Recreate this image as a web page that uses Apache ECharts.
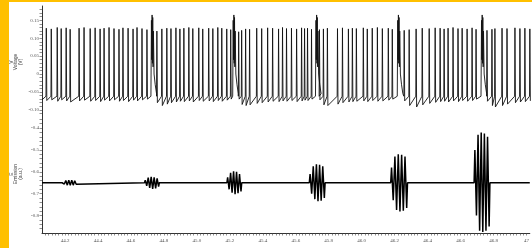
<!DOCTYPE html>
<html>
<head>
<meta charset="utf-8">
<script src="https://cdn.jsdelivr.net/npm/echarts@6/dist/echarts.min.js"></script>
<style>
  html, body { margin: 0; background: #fff; }
  #chart { width: 532px; height: 248px; }
</style>
</head>
<body>
<div id="chart"></div>
<script>
// time axis (s) and tick labels
const timeRange = [44.06, 47.02];
const xTickLabels = [44.2, 44.4, 44.6, 44.8, 45.0, 45.2, 45.4, 45.6, 45.8, 46.0, 46.2, 46.4, 46.6, 46.8, 47.0];
const voltageTickLabels = [0.15, 0.10, 0.05, 0, -0.05, -0.10];
const emissionTickLabels = [-0.4, -0.5, -0.6, -0.7, -0.8];

// top trace: each spike [time, peak, trough after]
const spikeOnset = -0.062;
const startLevel = -0.072;
const spikes = [
  [44.086,0.128,-0.074],[44.116,0.126,-0.072],[44.152,0.130,-0.076],[44.176,0.127,-0.072],
  [44.206,0.129,-0.075],[44.230,0.125,-0.078],[44.284,0.128,-0.075],[44.314,0.130,-0.073],
  [44.351,0.127,-0.076],[44.381,0.129,-0.074],[44.411,0.126,-0.077],[44.435,0.128,-0.073],
  [44.465,0.130,-0.075],[44.495,0.127,-0.072],[44.525,0.125,-0.076],[44.549,0.129,-0.074],
  [44.580,0.128,-0.077],[44.610,0.126,-0.073],[44.634,0.130,-0.075],[44.664,0.127,-0.072],
  [44.694,0.124,-0.070],[44.754,0.120,-0.080],[44.784,0.126,-0.088],[44.814,0.128,-0.084],
  [44.839,0.127,-0.080],[44.869,0.129,-0.078],[44.893,0.126,-0.076],[44.917,0.128,-0.077],
  [44.947,0.130,-0.075],[44.971,0.127,-0.078],[45.007,0.129,-0.074],[45.031,0.126,-0.076],
  [45.067,0.128,-0.075],[45.092,0.127,-0.077],[45.122,0.130,-0.074],[45.146,0.128,-0.076],
  [45.176,0.126,-0.073],[45.200,0.124,-0.070],[45.248,0.118,-0.070],[45.266,0.122,-0.085],
  [45.290,0.126,-0.088],[45.314,0.125,-0.086],[45.357,0.128,-0.082],[45.387,0.127,-0.080],
  [45.423,0.129,-0.078],[45.453,0.128,-0.076],[45.489,0.126,-0.077],[45.513,0.130,-0.075],
  [45.537,0.127,-0.076],[45.567,0.128,-0.074],[45.598,0.126,-0.077],[45.628,0.129,-0.075],
  [45.646,0.127,-0.073],[45.664,0.128,-0.074],[45.688,0.125,-0.070],[45.736,0.124,-0.072],
  [45.760,0.126,-0.086],[45.784,0.128,-0.088],[45.845,0.127,-0.084],[45.875,0.129,-0.080],
  [45.911,0.126,-0.078],[45.935,0.128,-0.077],[45.959,0.127,-0.076],[46.001,0.129,-0.075],
  [46.025,0.126,-0.077],[46.055,0.128,-0.074],[46.086,0.130,-0.076],[46.116,0.127,-0.075],
  [46.152,0.128,-0.073],[46.176,0.125,-0.070],[46.248,0.122,-0.075],[46.278,0.124,-0.088],
  [46.320,0.126,-0.092],[46.357,0.128,-0.086],[46.399,0.127,-0.082],[46.435,0.129,-0.079],
  [46.465,0.128,-0.077],[46.489,0.126,-0.076],[46.513,0.128,-0.078],[46.543,0.130,-0.075],
  [46.573,0.127,-0.077],[46.598,0.128,-0.074],[46.628,0.126,-0.076],[46.658,0.129,-0.074],
  [46.682,0.125,-0.070],[46.748,0.122,-0.076],[46.778,0.125,-0.088],[46.796,0.127,-0.092],
  [46.839,0.128,-0.088],[46.869,0.127,-0.084],[46.917,0.129,-0.080],[46.947,0.127,-0.078],
  [46.977,0.128,-0.077],[47.007,0.126,-0.075]
];

// top trace bursts: times, and the shape [time offset, voltage]
const burstTimes = [44.724, 45.218, 45.718, 46.212, 46.718];
const burstProfile = [
  [-0.006,-0.062],[-0.003,0.150],[-0.001,0.040],[0.001,0.165],[0.003,0.030],
  [0.005,0.158],[0.007,0.020],[0.009,0.120],[0.013,0.000],[0.020,-0.030],[0.028,-0.055]
];

// bottom trace: baseline and oscillation bursts [start, end, extremes]
const emissionBase = -0.65;
const emissionBursts = [
  [44.182, 44.272, [-0.645,-0.656,-0.640,-0.661,-0.638,-0.662,-0.638,-0.661,-0.641,-0.657]],
  [44.682, 44.772, [-0.638,-0.664,-0.627,-0.674,-0.623,-0.678,-0.625,-0.676,-0.630,-0.668]],
  [45.182, 45.272, [-0.625,-0.680,-0.605,-0.695,-0.598,-0.702,-0.600,-0.698,-0.610,-0.690]],
  [45.682, 45.778, [-0.610,-0.700,-0.575,-0.725,-0.566,-0.735,-0.568,-0.732,-0.575,-0.720]],
  [46.176, 46.278, [-0.580,-0.730,-0.530,-0.775,-0.520,-0.782,-0.522,-0.778,-0.530,-0.765]],
  [46.682, 46.778, [-0.500,-0.800,-0.430,-0.870,-0.420,-0.875,-0.425,-0.870,-0.440,-0.850]]
];

// build the top trace
const events = [];
spikes.forEach(s => events.push({ t: s[0], pts: [[s[0] - 0.002, spikeOnset], [s[0], s[1]], [s[0] + 0.003, s[2]]] }));
burstTimes.forEach(t => events.push({ t: t, pts: burstProfile.map(p => [t + p[0], p[1]]) }));
events.sort((a, b) => a.t - b.t);
const voltageData = [[timeRange[0], startLevel]];
events.forEach(e => e.pts.forEach(p => voltageData.push(p)));

// build the bottom trace
const emissionData = [[timeRange[0], emissionBase]];
emissionBursts.forEach(b => {
  const [start, end, vals] = b;
  emissionData.push([start, emissionBase]);
  vals.forEach((v, i) => emissionData.push([start + (end - start) * (i + 0.5) / vals.length, v]));
  emissionData.push([end, emissionBase]);
});
emissionData.push([timeRange[1], emissionBase]);

const near = (v, list) => list.some(l => Math.abs(v - l) < 1e-6);
const labelStyle = { fontSize: 5, color: '#555', fontFamily: 'Liberation Serif' };
const axisLine = { show: true, lineStyle: { color: '#333', width: 1 } };
const axisTick = { show: true, length: 2.5, lineStyle: { color: '#444', width: 0.6 } };

var chart = echarts.init(document.getElementById('chart'));
chart.setOption({
  animation: false,
  backgroundColor: '#fff',
  grid: [
    { left: 42, right: 0, top: 6, height: 111 },
    { left: 42, right: 0, top: 115, height: 118 }
  ],
  xAxis: [
    { gridIndex: 0, type: 'value', min: timeRange[0], max: timeRange[1], show: false },
    {
      gridIndex: 1, type: 'value', min: timeRange[0], max: timeRange[1], interval: 0.02,
      axisLine: axisLine, axisTick: axisTick, splitLine: { show: false },
      axisLabel: Object.assign({}, labelStyle, {
        margin: 5, showMinLabel: false, showMaxLabel: false,
        formatter: v => near(v, xTickLabels) ? (Math.abs(v - 47) < 1e-6 ? '47' : v.toFixed(1)) : ''
      })
    }
  ],
  yAxis: [
    {
      gridIndex: 0, type: 'value', min: -0.12, max: 0.19, interval: 0.01,
      axisLine: axisLine, axisTick: axisTick, splitLine: { show: false },
      axisLabel: Object.assign({}, labelStyle, {
        margin: 3, showMinLabel: false, showMaxLabel: false,
        formatter: v => near(v, voltageTickLabels) ? (Math.abs(v) < 1e-6 ? '0' : v.toFixed(2)) : ''
      })
    },
    {
      gridIndex: 1, type: 'value', min: -0.88, max: -0.34, interval: 0.02,
      axisLine: axisLine, axisTick: axisTick, splitLine: { show: false },
      axisLabel: Object.assign({}, labelStyle, {
        margin: 3, showMinLabel: false, showMaxLabel: false,
        formatter: v => near(v, emissionTickLabels) ? v.toFixed(1) : ''
      })
    }
  ],
  graphic: [
    { type: 'rect', shape: { x: 0, y: 0, width: 9, height: 248 }, style: { fill: '#FFC000' }, z: 100 },
    { type: 'rect', shape: { x: 0, y: 0, width: 532, height: 2 }, style: { fill: '#FFC000' }, z: 100 },
    { type: 'text', x: 12, y: 62, rotation: Math.PI / 2, style: { text: 'V', fontSize: 5, fill: '#444', align: 'center', verticalAlign: 'middle' } },
    { type: 'text', x: 16, y: 62, rotation: Math.PI / 2, style: { text: 'Voltage', fontSize: 5, fill: '#444', align: 'center', verticalAlign: 'middle' } },
    { type: 'text', x: 21, y: 62, rotation: Math.PI / 2, style: { text: '(V)', fontSize: 5, fill: '#444', align: 'center', verticalAlign: 'middle' } },
    { type: 'text', x: 12, y: 174, rotation: Math.PI / 2, style: { text: 'E', fontSize: 5, fill: '#444', align: 'center', verticalAlign: 'middle' } },
    { type: 'text', x: 16, y: 174, rotation: Math.PI / 2, style: { text: 'Emission', fontSize: 5, fill: '#444', align: 'center', verticalAlign: 'middle' } },
    { type: 'text', x: 21, y: 174, rotation: Math.PI / 2, style: { text: '(a.u.)', fontSize: 5, fill: '#444', align: 'center', verticalAlign: 'middle' } }
  ],
  series: [
    {
      type: 'line', xAxisIndex: 0, yAxisIndex: 0, data: voltageData,
      showSymbol: false, lineStyle: { color: '#111', width: 0.9 }
    },
    {
      type: 'line', xAxisIndex: 1, yAxisIndex: 1, data: emissionData,
      showSymbol: false, lineStyle: { color: '#000', width: 1.5 }
    }
  ]
});
</script>
</body>
</html>
